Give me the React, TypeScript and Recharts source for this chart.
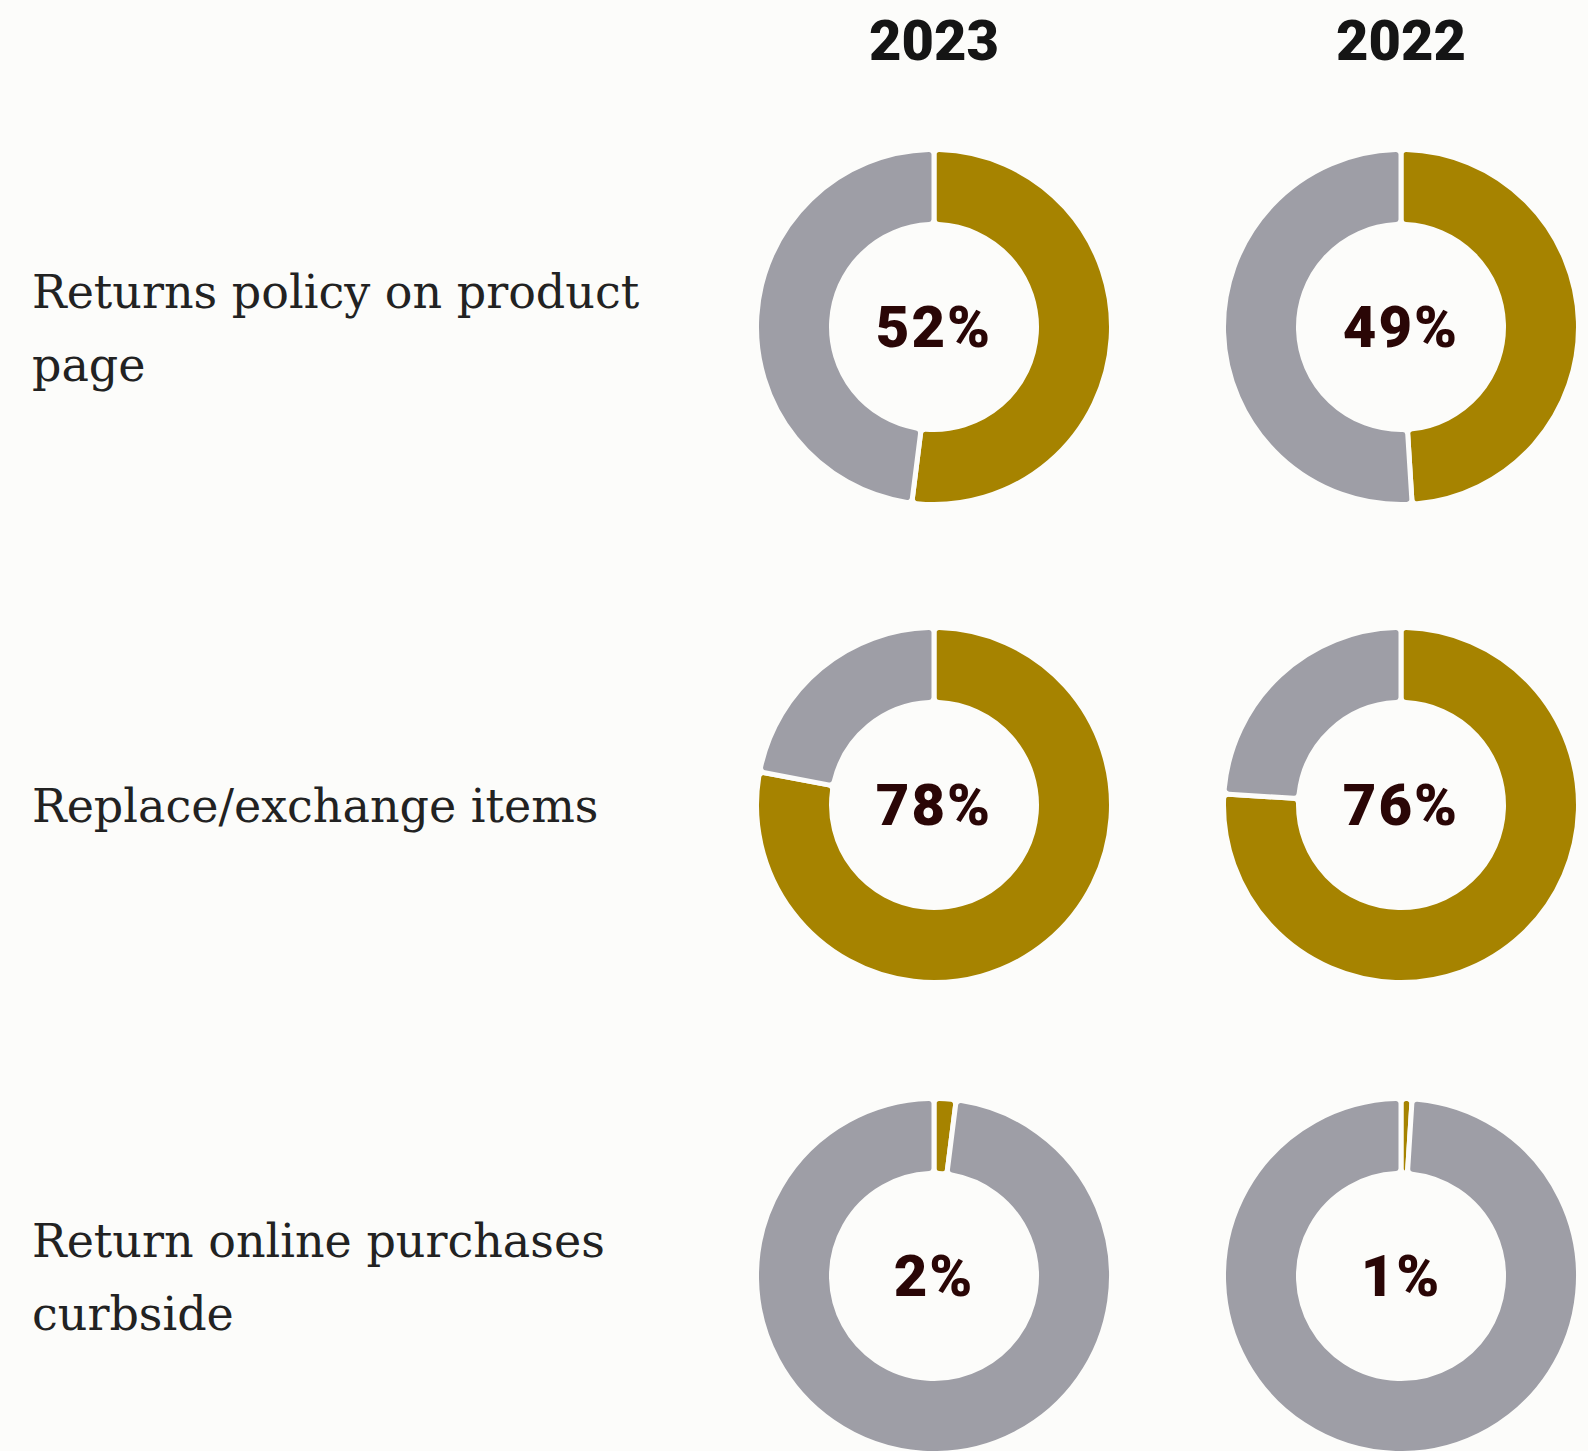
import { PieChart, Pie, Cell } from "recharts";

const questions = [
  ["Returns policy on product", "page"],
  ["Replace/exchange items"],
  ["Return online purchases", "curbside"],
];
const years = ["2023", "2022"];
const share2023 = [52, 78, 2];
const share2022 = [49, 76, 1];

const GOLD = "#a68300";
const GREY = "#9e9ea6";
const BG = "#fcfcfa";

const W = 1588;
const H = 1451;
const colX = [934, 1401];
const rowY = [327, 805, 1276];

const seriesByYear = [share2023, share2022];

const App = () => {
  return (
    <div style={{ position: "absolute", left: 0, top: 0, width: W, height: H, background: BG }}>
      <PieChart
        width={W}
        height={H}
        margin={{ top: 0, right: 0, bottom: 0, left: 0 }}
        style={{ position: "absolute", left: 0, top: 0 }}
      >
        {seriesByYear.map((shares, c) =>
          shares.map((v, r) => (
            <Pie
              key={`${c}-${r}`}
              data={[
                { name: "yes", value: v },
                { name: "no", value: 100 - v },
              ]}
              dataKey="value"
              cx={colX[c]}
              cy={rowY[r]}
              innerRadius={102.5}
              outerRadius={177.5}
              startAngle={90}
              endAngle={-270}
              stroke={BG}
              strokeWidth={5}
              cornerRadius={5}
              isAnimationActive={false}
            >
              <Cell fill={GOLD} />
              <Cell fill={GREY} />
            </Pie>
          ))
        )}
      </PieChart>
      <svg width={W} height={H} style={{ position: "absolute", left: 0, top: 0, pointerEvents: "none" }}>
        {years.map((y, c) => (
          <text
            key={y}
            x={colX[c]}
            y={60}
            textAnchor="middle"
            fill="#151515"
            fontFamily="Roboto"
            fontWeight={900}
            fontSize={56}
          >
            {y}
          </text>
        ))}
        {seriesByYear.map((shares, c) =>
          shares.map((v, r) => (
            <text
              key={`p-${c}-${r}`}
              x={colX[c]}
              y={rowY[r] + 20}
              textAnchor="middle"
              fill="#2a0606"
              fontFamily="Roboto"
              fontWeight={900}
              fontSize={58}
              letterSpacing={2}
            >
              {`${v}%`}
            </text>
          ))
        )}
        {questions.map((lines, r) => (
          <text
            key={r}
            x={32}
            y={lines.length > 1 ? rowY[r] - 19 : rowY[r] + 17}
            fill="#222222"
            fontFamily="DejaVu Serif"
            fontSize={46}
          >
            {lines.map((l, i) => (
              <tspan key={i} x={32} dy={i === 0 ? 0 : 73}>
                {l}
              </tspan>
            ))}
          </text>
        ))}
      </svg>
    </div>
  );
};

export default App;
